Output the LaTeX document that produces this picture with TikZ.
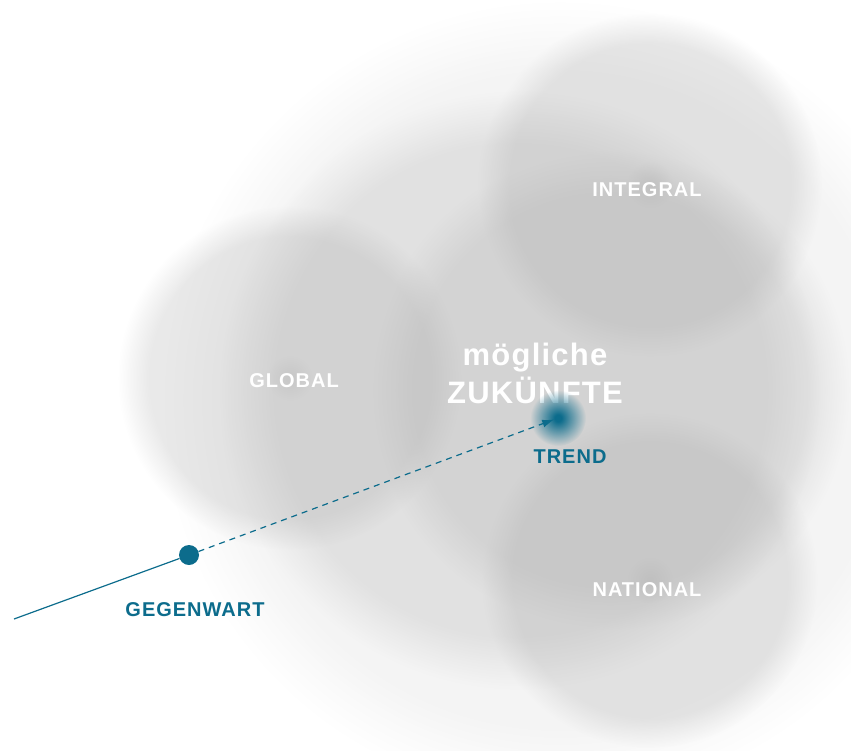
\documentclass[tikz,border=0pt]{standalone}
\usepackage{fontspec}
\setmainfont{Liberation Sans}
\usetikzlibrary{fadings,arrows.meta}

\definecolor{petroleo}{RGB}{12,108,140}
\definecolor{cinzanuvem}{RGB}{168,168,168}

\pgfdeclareradialshading{nevoa}{\pgfpointorigin}{color(0bp)=(white); color(20.5bp)=(white); color(25bp)=(black); color(50bp)=(black)}
\pgfdeclarefading{nevoa}{\pgfuseshading{nevoa}}
\pgfdeclareradialshading{brilho}{\pgfpointorigin}{color(0bp)=(white); color(3bp)=(white); color(25bp)=(black); color(50bp)=(black)}
\pgfdeclarefading{brilho}{\pgfuseshading{brilho}}

\tikzset{
    nuvem/.style={fill=cinzanuvem, path fading=nevoa, fill opacity=#1},
    miolo/.style={fill=cinzanuvem, path fading=brilho, fill opacity=0.25},
    rotulo/.style={anchor=base, inner sep=0pt, text=white,
        font=\bfseries\fontsize{20}{24}\selectfont\addfontfeatures{LetterSpace=5}},
    rotuloazul/.style={rotulo, text=petroleo},
    titulo/.style={anchor=base, inner sep=0pt, text=white,
        font=\bfseries\fontsize{31}{36}\selectfont\addfontfeatures{LetterSpace=4}}
}

\begin{document}
\begin{tikzpicture}[x=1pt, y=-1pt]
    \useasboundingbox (0,0) rectangle (851,750);

    %Nuvens
    \fill[nuvem=0.12] (560,400) circle (400);
    \fill[nuvem=0.26] (520,390) circle (300);
    \fill[nuvem=0.24] (610,390) circle (240);
    \fill[nuvem=0.25] (290,378) circle (172);
    \fill[nuvem=0.25] (650,185) circle (172);
    \fill[nuvem=0.25] (650,580) circle (168);

    %Centros
    \fill[miolo] (290,378) circle (24);
    \fill[miolo] (650,185) circle (24);
    \fill[miolo] (650,580) circle (24);

    %Textos
    \node[rotulo] (integral) at (647,196) {INTEGRAL};
    \node[rotulo] (global) at (294,387) {GLOBAL};
    \node[rotulo] (national) at (647,596) {NATIONAL};
    \node[titulo] (moegliche) at (535,365) {mögliche};
    \node[titulo] (zukuenfte) at (535,403) {ZUKÜNFTE};

    %Trend
    \fill[petroleo, path fading=brilho] (558,418) circle (28);
    \coordinate (trend) at (558,418);
    \node[rotuloazul] (trendtxt) at (570,463) {TREND};

    %Gegenwart
    \coordinate (inicio) at (14,619);
    \node[circle, fill=petroleo, inner sep=0pt, minimum size=20pt] (agora) at (189,555) {};
    \node[rotuloazul] (agoratxt) at (195,616) {GEGENWART};

    %flechas
    \draw[petroleo, line width=1.2pt] (inicio) -- (agora);
    \draw[petroleo, line width=1.2pt, dash pattern=on 6pt off 5pt, shorten >=4pt,
        -{Latex[length=12pt, width=8pt]}] (agora) -- (trend);
\end{tikzpicture}
\end{document}
